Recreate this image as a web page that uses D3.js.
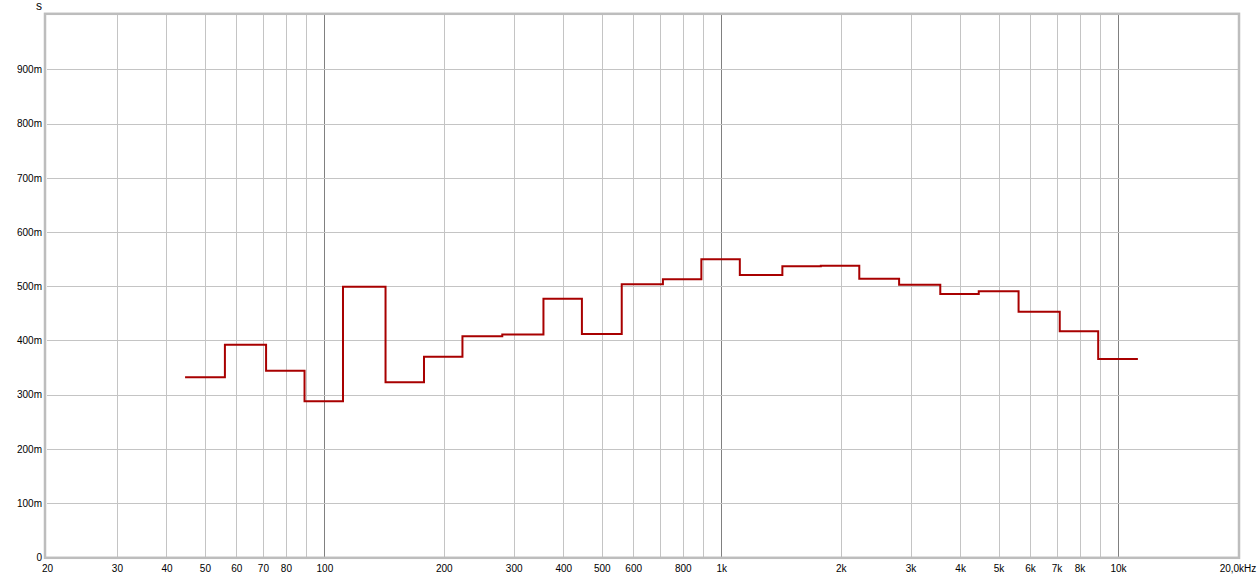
<!DOCTYPE html>
<html>
<head>
<meta charset="utf-8">
<script src="https://cdn.jsdelivr.net/npm/d3@7"></script>
<style>
  html, body { margin: 0; padding: 0; background: #fff; }
  svg { display: block; font-family: "Liberation Sans", Arial, sans-serif; font-size: 12px; }
  .grid line { stroke: #c4c4c4; stroke-width: 1; shape-rendering: crispEdges; }
  .grid line.decade { stroke: #808080; }
  .axis text { fill: #000; }
  .axis path, .axis line { display: none; }
</style>
</head>
<body>
<div id="chart"></div>
<script>
// third-octave band centres (Hz) and decay times (s)
const bandCentres = [50, 63, 80, 100, 125, 160, 200, 250, 315, 400, 500, 630,
  800, 1000, 1250, 1600, 2000, 2500, 3150, 4000, 5000, 6300, 8000, 10000];
const decayTimes = [0.332, 0.392, 0.344, 0.288, 0.499, 0.323, 0.370, 0.408,
  0.411, 0.477, 0.412, 0.504, 0.513, 0.550, 0.521, 0.537, 0.538, 0.514,
  0.503, 0.486, 0.491, 0.453, 0.417, 0.366];

const xTicks = [20, 30, 40, 50, 60, 70, 80, 100, 200, 300, 400, 500, 600, 800,
  1000, 2000, 3000, 4000, 5000, 6000, 7000, 8000, 10000, 20000];
const xTickLabels = ['20', '30', '40', '50', '60', '70', '80', '100', '200', '300',
  '400', '500', '600', '800', '1k', '2k', '3k', '4k', '5k', '6k', '7k', '8k',
  '10k', '20,0kHz'];
const yTicks = [0, 0.1, 0.2, 0.3, 0.4, 0.5, 0.6, 0.7, 0.8, 0.9];
const yTickLabels = ['0', '100m', '200m', '300m', '400m', '500m', '600m', '700m',
  '800m', '900m'];

const width = 1260, height = 578;
const plotLeft = 47, plotRight = 1237.5, plotTop = 15.3, plotBottom = 557.3;

const x = d3.scaleLog().domain([20, 20000]).range([plotLeft, plotRight]);
const y = d3.scaleLinear().domain([0, 1]).range([plotBottom, plotTop]);

const svg = d3.select('#chart').append('svg')
  .attr('width', width)
  .attr('height', height);

// vertical grid: every 1-9 multiple of each decade
const minor = [];
[10, 100, 1000, 10000].forEach(function(dec) {
  for (let m = 1; m < 10; m++) {
    const f = dec * m;
    if (f > 20 && f < 20000) minor.push(f);
  }
});

const grid = svg.append('g').attr('class', 'grid');
grid.selectAll('line.v')
    .data(minor)
  .enter().append('line')
    .attr('class', function(d) { return [100, 1000, 10000].includes(d) ? 'v decade' : 'v'; })
    .attr('x1', function(d) { return Math.round(x(d)) + 0.5; })
    .attr('x2', function(d) { return Math.round(x(d)) + 0.5; })
    .attr('y1', plotTop)
    .attr('y2', plotBottom);

grid.selectAll('line.h')
    .data(yTicks.slice(1))
  .enter().append('line')
    .attr('class', 'h')
    .attr('x1', plotLeft)
    .attr('x2', plotRight)
    .attr('y1', function(d) { return Math.round(y(d)) + 0.5; })
    .attr('y2', function(d) { return Math.round(y(d)) + 0.5; });

// frame
svg.append('rect')
  .attr('x', 45)
  .attr('y', 13.8)
  .attr('width', plotRight - 45 + 1.5)
  .attr('height', plotBottom - 13.8 + 0.5)
  .attr('fill', 'none')
  .attr('stroke', '#bdbdbd')
  .attr('stroke-width', 2.5);

// axes
svg.append('g')
  .attr('class', 'axis')
  .attr('transform', `translate(0, ${plotBottom})`)
  .call(d3.axisBottom(x)
    .tickValues(xTicks)
    .tickSize(0)
    .tickPadding(8)
    .tickFormat(function(d, i) { return xTickLabels[i]; }));

svg.append('g')
  .attr('class', 'axis')
  .attr('transform', `translate(${plotLeft}, 0)`)
  .call(d3.axisLeft(y)
    .tickValues(yTicks)
    .tickSize(0)
    .tickPadding(5)
    .tickFormat(function(d, i) { return yTickLabels[i]; }));

// unit label above the axis
svg.append('text')
  .attr('x', 42)
  .attr('y', 10)
  .attr('text-anchor', 'end')
  .attr('fill', '#000')
  .text('s');

// step line over third-octave band edges
const pts = bandCentres.map(function(f, i) {
  return { f: f * Math.pow(10, -0.05), v: decayTimes[i] };
});
const lastF = bandCentres[bandCentres.length - 1] * Math.pow(10, 0.05);
pts.push({ f: lastF, v: decayTimes[decayTimes.length - 1] });

svg.append('path')
  .datum(pts)
  .attr('fill', 'none')
  .attr('stroke', '#a80000')
  .attr('stroke-width', 2)
  .attr('stroke-linejoin', 'miter')
  .attr('d', d3.line()
    .x(function(d) { return x(d.f); })
    .y(function(d) { return y(d.v); })
    .curve(d3.curveStepAfter));
</script>
</body>
</html>
